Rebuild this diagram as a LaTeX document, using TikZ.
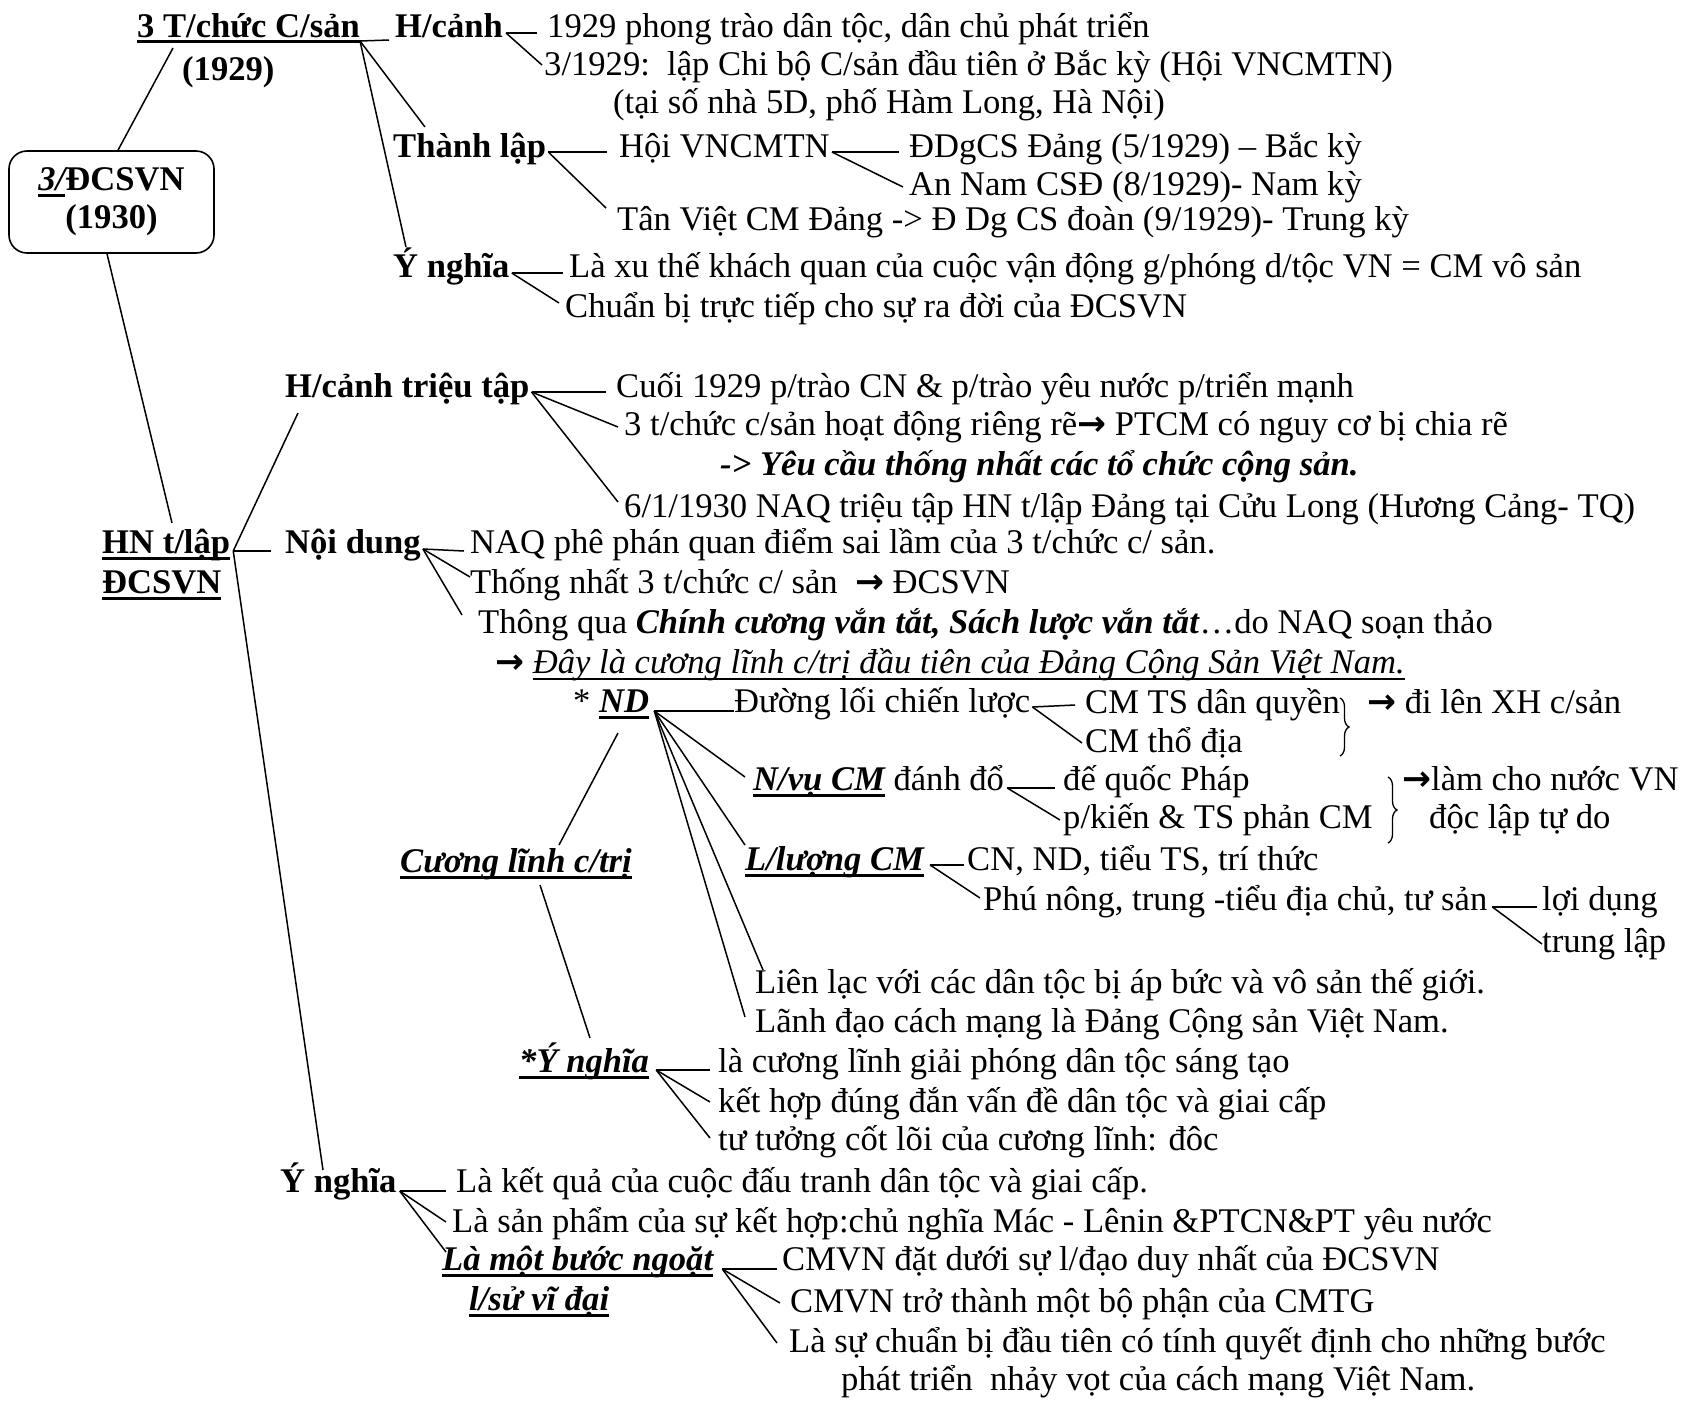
\documentclass[tikz,border=0pt]{standalone}
\usepackage{fontspec}
\setmainfont{Liberation Serif}
\newfontfamily\symf{DejaVu Sans}
\usetikzlibrary{calc,decorations.pathreplacing}
\newcommand\myul[2][3]{\setbox0\hbox{#2}\rlap{\rule[-6.5pt]{\wd0}{#1pt}}\box0\relax}
\newcommand\arr{{\symf\bfseries →}}
\begin{document}
\begin{tikzpicture}[x=1pt,y=1pt,
  t/.style={anchor=base west, inner sep=0pt, font=\fontsize{34.6}{40}\selectfont},
  b/.style={t, font=\fontsize{34.6}{40}\selectfont\bfseries},
  ln/.style={line width=1.5pt},
  br/.style={line width=1.3pt, decorate, decoration={brace, amplitude=9pt}}]
\useasboundingbox (0,0) rectangle (1686,-1400);
% ---------- top part
\node[b] (tc) at (137,-37) {\myul{3 T/chức C/sản}};
\node[b] (tcy) at (182,-80) {(1929)};
\node[draw, line width=1.6pt, rounded corners=18pt, minimum width=205pt, minimum height=102pt,
  align=center, inner sep=0pt, font=\fontsize{34.6}{38}\selectfont\bfseries] (box) at (111.5,-202)
  {\myul{\itshape 3/}ĐCSVN\\(1930)};
\node[b] (hc) at (395,-37) {H/cảnh};
\node[t] (hc1) at (547,-37) {1929 phong trào dân tộc, dân chủ phát triển};
\node[t] (hc2) at (544,-75) {3/1929:\ \ lập Chi bộ C/sản đầu tiên ở Bắc kỳ (Hội VNCMTN)};
\node[t] (hc3) at (613,-113) {(tại số nhà 5D, phố Hàm Long, Hà Nội)};
\node[b] (tl) at (393,-157) {Thành lập};
\node[t] (hoi) at (619,-157) {Hội VNCMTN};
\node[t] (dd) at (909,-157) {ĐDgCS Đảng (5/1929) – Bắc kỳ};
\node[t] (an) at (909,-195) {An Nam CSĐ (8/1929)- Nam kỳ};
\node[t] (tv) at (617,-230) {Tân Việt CM Đảng -> Đ Dg CS đoàn (9/1929)- Trung kỳ};
\node[b] (yn1) at (393,-277) {Ý nghĩa};
\node[t] (yn1a) at (569,-277) {Là xu thế khách quan của cuộc vận động g/phóng d/tộc VN = CM vô sản};
\node[t] (yn1b) at (565,-317) {Chuẩn bị trực tiếp cho sự ra đời của ĐCSVN};
% ---------- HN
\node[b] (hn) at (102,-553) {\myul{HN t/lập}};
\node[b] (hn2) at (102,-593) {\myul{ĐCSVN}};
\node[b] (hctt) at (285,-397) {H/cảnh triệu tập};
\node[t] (c1) at (616,-397) {Cuối 1929 p/trào CN \& p/trào yêu nước p/triển mạnh};
\node[t] (c2) at (624,-435) {3 t/chức c/sản hoạt động riêng rẽ\arr{} PTCM có nguy cơ bị chia rẽ};
\node[t] (c3) at (720,-475) {\bfseries\itshape -> Yêu cầu thống nhất các tổ chức cộng sản.};
\node[t] (c4) at (624,-517) {6/1/1930 NAQ triệu tập HN t/lập Đảng tại Cửu Long (Hương Cảng- TQ)};
\node[b] (nd) at (285,-553) {Nội dung};
\node[t] (n1) at (470,-553) {NAQ phê phán quan điểm sai lầm của 3 t/chức c/ sản.};
\node[t] (n2) at (470,-593) {Thống nhất 3 t/chức c/ sản \ \arr{} ĐCSVN};
\node[t] (n3) at (478,-633) {Thông qua \textbf{\textit{Chính cương vắn tắt, Sách lược vắn tắt}}…do NAQ soạn thảo};
\node[t] (n4) at (495,-673) {\arr{} \myul[2]{\itshape Đây là cương lĩnh c/trị đầu tiên của Đảng Cộng Sản Việt Nam.}};
\node[t] (ndx) at (573,-712) {* \myul{\bfseries\itshape ND}};
\node[t] (dl) at (734,-712) {Đường lối chiến lược};
\node[t] (dl1) at (1085,-713) {CM TS dân quyền};
\node[t] (dl2) at (1085,-752) {CM thổ địa};
\node[t] (dl3) at (1367,-713) {\arr{} đi lên XH c/sản};
\node[t] (nv) at (753,-790) {\myul{\bfseries\itshape N/vụ CM} đánh đổ};
\node[t] (nv1) at (1063,-790) {đế quốc Pháp};
\node[t] (nv2) at (1063,-828) {p/kiến \& TS phản CM};
\node[t] (nv3) at (1402,-790) {\arr{}làm cho nước VN};
\node[t] (nv4) at (1429,-828) {độc lập tự do};
\node[t] (ll) at (745,-870) {\myul{\bfseries\itshape L/lượng CM}};
\node[t] (ll1) at (967,-870) {CN, ND, tiểu TS, trí thức};
\node[t] (ll2) at (983,-910) {Phú nông, trung -tiểu địa chủ, tư sản};
\node[t] (ll3) at (1542,-910) {lợi dụng};
\node[t] (ll4) at (1542,-952) {trung lập};
\node[t] (lien) at (755,-993) {Liên lạc với các dân tộc bị áp bức và vô sản thế giới.};
\node[t] (lanh) at (755,-1032) {Lãnh đạo cách mạng là Đảng Cộng sản Việt Nam.};
\node[t] (cl) at (400,-872) {\myul{\bfseries\itshape Cương lĩnh c/trị}};
\node[t] (yn2) at (519,-1072) {\myul{\bfseries\itshape *Ý nghĩa}};
\node[t] (yn2a) at (718,-1072) {là cương lĩnh giải phóng dân tộc sáng tạo};
\node[t] (yn2b) at (718,-1112) {kết hợp đúng đắn vấn đề dân tộc và giai cấp};
\node[t] (yn2c) at (718,-1150) {tư tưởng cốt lõi của cương lĩnh: đôc};
\node[b] (yn3) at (280,-1192) {Ý nghĩa};
\node[t] (yn3a) at (456,-1192) {Là kết quả của cuộc đấu tranh dân tộc và giai cấp.};
\node[t] (yn3b) at (452,-1232) {Là sản phẩm của sự kết hợp:chủ nghĩa Mác - Lênin \&PTCN\&PT yêu nước};
\node[t] (bn) at (442,-1270) {\myul{\bfseries\itshape Là một bước ngoặt}};
\node[t] (bnb) at (469,-1310) {\myul{\bfseries\itshape l/sử vĩ đại}};
\node[t] (bn1) at (782,-1270) {CMVN đặt dưới sự l/đạo duy nhất của ĐCSVN};
\node[t] (bn2) at (790,-1312) {CMVN trở thành một bộ phận của CMTG};
\node[t] (bn3) at (789,-1352) {Là sự chuẩn bị đầu tiên có tính quyết định cho những bước};
\node[t] (bn4) at (841,-1390) {phát triển\ \ nhảy vọt của cách mạng Việt Nam.};
% ---------- connectors
\coordinate (j0) at ($(tc.base east)+(0,-4)$);
\draw[ln] (j0) -- ($(hc.base west)+(-6,-3)$);
\draw[ln] (j0) -- ($(tl.base west)+(32,30)$);
\draw[ln] (j0) -- ($(yn1.base west)+(13,30)$);
\draw[ln] ($(tc.base west)+(36,-11)$) -- ($(box.north)+(6.5,0)$);
\draw[ln] ($(box.south)+(-4.5,0)$) -- ($(hn.base west)+(70,30)$);
\coordinate (jhc) at ($(hc.base east)+(3,4)$);
\draw[ln] (jhc) -- ($(hc1.base west)+(-10,4)$);
\draw[ln] (jhc) -- ($(hc2.base west)+(-2,10)$);
\coordinate (jtl) at ($(tl.base east)+(2,5)$);
\draw[ln] (jtl) -- ($(hoi.base west)+(-12,5)$);
\draw[ln] (jtl) -- ($(tv.base west)+(-11,22)$);
\coordinate (jhoi) at ($(hoi.base east)+(2,5)$);
\draw[ln] (jhoi) -- ($(dd.base west)+(-10,5)$);
\draw[ln] (jhoi) -- ($(an.base west)+(-6,8)$);
\coordinate (jyn1) at ($(yn1.base east)+(2,4)$);
\draw[ln] (jyn1) -- ($(yn1a.base west)+(-6,4)$);
\draw[ln] (jyn1) -- ($(yn1b.base west)+(-6,14)$);
\coordinate (jhn) at ($(hn.base east)+(3,2)$);
\draw[ln] (jhn) -- ($(hctt.base west)+(13,-16)$);
\draw[ln] (jhn) -- ($(nd.base west)+(-14,2)$);
\draw[ln] (jhn) -- ($(yn3.base west)+(43,22)$);
\coordinate (jhctt) at ($(hctt.base east)+(2,5)$);
\draw[ln] (jhctt) -- ($(c1.base west)+(-10,5)$);
\draw[ln] (jhctt) -- ($(c2.base west)+(-6,8)$);
\draw[ln] (jhctt) -- ($(c4.base west)+(-6,15)$);
\coordinate (jnd) at ($(nd.base east)+(2,4)$);
\draw[ln] (jnd) -- ($(n1.base west)+(-6,2)$);
\draw[ln] (jnd) -- ($(n2.base west)+(0,16)$);
\draw[ln] (jnd) -- ($(n3.base west)+(-16,18)$);
\coordinate (jnx) at ($(ndx.base east)+(5,1)$);
\draw[ln] (jnx) -- ($(dl.base west)+(0,1)$);
\draw[ln] (jnx) -- ($(nv.base west)+(-8,13)$);
\draw[ln] (jnx) -- ($(ll.base west)+(0,25)$);
\draw[ln] (jnx) -- ($(lien.base west)+(8,23)$);
\draw[ln] (jnx) -- ($(lanh.base west)+(-10,15)$);
\draw[ln] ($(ndx.base west)+(45,-21)$) -- ($(cl.base west)+(159,27)$);
\coordinate (jdl) at ($(dl.base east)+(2,5)$);
\draw[ln] (jdl) -- ($(dl1.base west)+(-10,8)$);
\draw[ln] (jdl) -- ($(dl2.base west)+(-3,9)$);
\coordinate (jnv) at ($(nv.base east)+(3,2)$);
\draw[ln] (jnv) -- ($(nv1.base west)+(-8,2)$);
\draw[ln] (jnv) -- ($(nv2.base west)+(-3,8)$);
\coordinate (jll) at ($(ll.base east)+(6,5)$);
\draw[ln] (jll) -- ($(ll1.base west)+(-3,5)$);
\draw[ln] (jll) -- ($(ll2.base west)+(-3,12)$);
\coordinate (jll2) at ($(ll2.base east)+(5,3)$);
\draw[ln] (jll2) -- ($(ll3.base west)+(-5,3)$);
\draw[ln] (jll2) -- ($(ll4.base west)+(0,8)$);
\draw[ln] ($(cl.base west)+(140,-13)$) -- ($(yn2.base west)+(71,34)$);
\coordinate (jyn2) at ($(yn2.base east)+(7,2)$);
\draw[ln] (jyn2) -- ($(yn2a.base west)+(-8,2)$);
\draw[ln] (jyn2) -- ($(yn2b.base west)+(-8,10)$);
\draw[ln] (jyn2) -- ($(yn2c.base west)+(-8,12)$);
\coordinate (jyn3) at ($(yn3.base east)+(3,1)$);
\draw[ln] (jyn3) -- ($(yn3a.base west)+(-10,1)$);
\draw[ln] (jyn3) -- ($(yn3b.base west)+(-6,10)$);
\draw[ln] (jyn3) -- ($(bn.base west)+(4,18)$);
\coordinate (jbn) at ($(bn.base east)+(9,1)$);
\draw[ln] (jbn) -- ($(bn1.base west)+(-5,1)$);
\draw[ln] (jbn) -- ($(bn2.base west)+(-10,9)$);
\draw[ln] (jbn) -- ($(bn3.base west)+(-12,9)$);
% braces
\draw[br] (1340,-698) -- (1340,-756);
\draw[br] (1388,-777) -- (1388,-843);
\end{tikzpicture}
\end{document}
